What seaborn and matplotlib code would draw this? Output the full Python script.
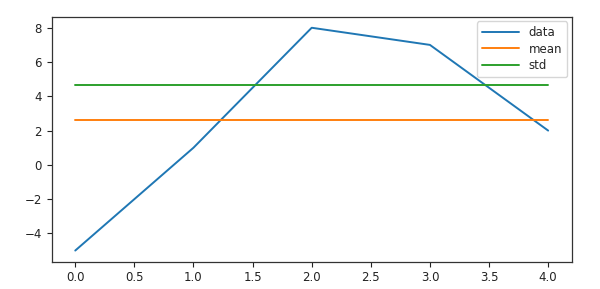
import numpy as np
import pandas as pd
import matplotlib
matplotlib.use("Agg")
import matplotlib.pyplot as plt
import seaborn as sns

sns.set_style("ticks")
plt.rcParams['font.family'] = ['DejaVu Sans']

x_vals = [0, 1, 2, 3, 4]
data_vals = [-5, 1, 8, 7, 2]
mean_val = float(np.mean(data_vals))
std_val = float(np.std(data_vals))

df = pd.DataFrame({
    "x": x_vals * 3,
    "y": data_vals + [mean_val] * 5 + [std_val] * 5,
    "series": ["data"] * 5 + ["mean"] * 5 + ["std"] * 5,
})

fig = plt.figure(figsize=(6.0, 2.89), dpi=100)
ax = fig.add_axes([0.086, 0.0945, 0.867, 0.848])
sns.lineplot(data=df, x="x", y="y", hue="series",
             palette=["#1f77b4", "#ff7f0e", "#2ca02c"], linewidth=1.4, ax=ax)
ax.set_xlabel("")
ax.set_ylabel("")
ax.set_xticks([0, 0.5, 1, 1.5, 2, 2.5, 3, 3.5, 4])
ax.set_yticks([-4, -2, 0, 2, 4, 6, 8])
ax.set_xlim(-0.2, 4.2)
ax.set_ylim(-5.65, 8.65)
ax.tick_params(labelsize=8.5, length=3.5, width=0.8, colors="#222222")
for s in ax.spines.values():
    s.set_visible(True)
    s.set_linewidth(0.9)
    s.set_color("#333333")
leg = ax.legend(title=None, loc="upper right", fontsize=8.5, frameon=True,
                handlelength=3.2, labelspacing=0.3, borderaxespad=0.4)
fig.savefig("out.png", dpi=100)
